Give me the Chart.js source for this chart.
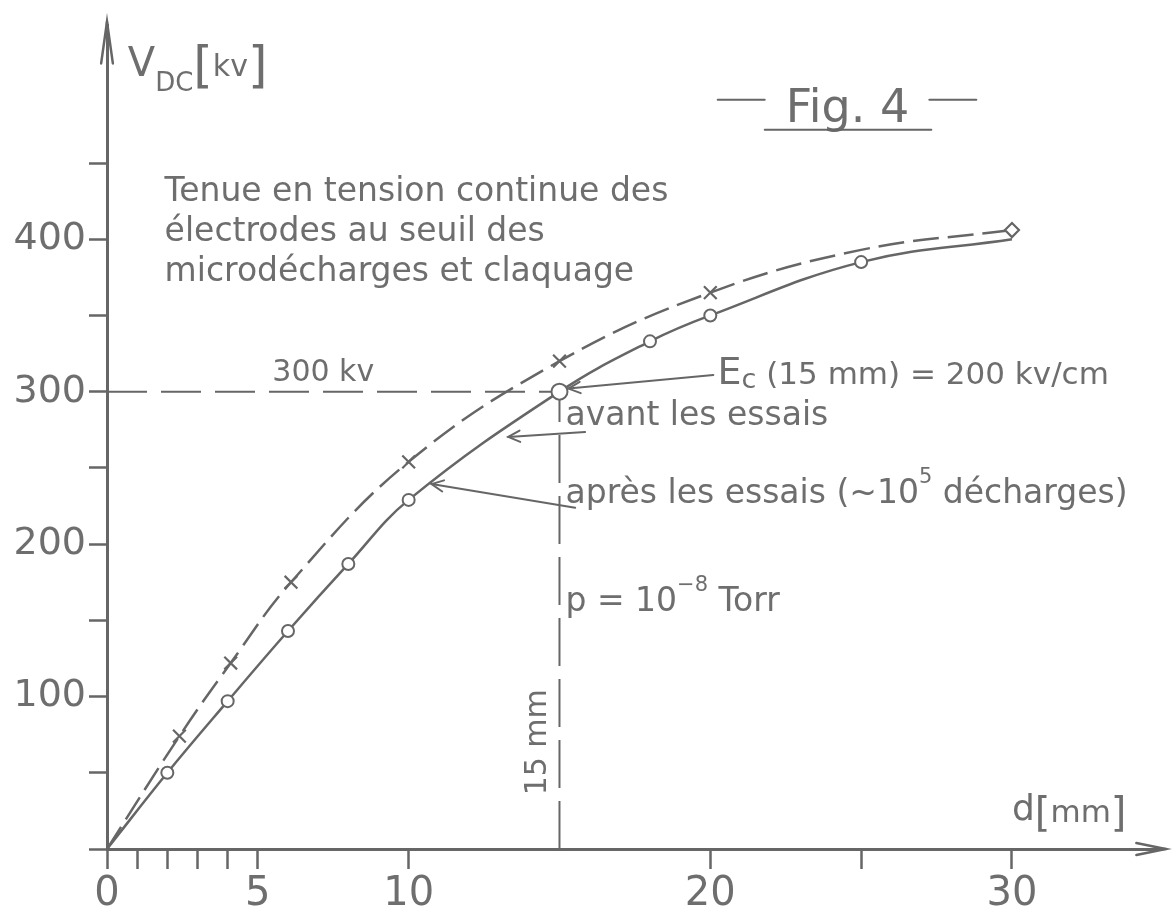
<!DOCTYPE html>
<html lang="fr">
<head>
<meta charset="UTF-8">
<title>Fig. 4</title>
<script src="https://cdn.jsdelivr.net/npm/chart.js"></script>
<style>
  html, body { margin: 0; padding: 0; background: #fff; }
  #wrap { width: 1172px; height: 921px; position: relative; }
</style>
</head>
<body>
<div id="wrap"><canvas id="fig4"></canvas></div>
<script>
// claquage (x markers, dashed curve)
const dBreak = [0, 2.4, 4.1, 6.1, 10, 15, 20, 25, 30];
const vBreak = [0, 74, 122, 175, 254, 320, 365, 393, 406];
// seuil des microdecharges (o markers, solid curve)
const dMicro = [0, 2, 4, 6, 8, 10, 15, 18, 20, 25, 30];
const vMicro = [0, 50, 97, 143, 187, 229, 300, 333, 350, 385, 400];

const V_REF = 300;   // kV
const D_REF = 15;    // mm

const xTicks = [0, 1, 2, 3, 4, 5, 10, 20, 25, 30];
const xLabels = [0, 5, 10, 20, 30];
const yTicks = [0, 50, 100, 150, 200, 250, 300, 350, 400, 450];
const yLabels = [100, 200, 300, 400];

const INK = '#666666';
const TXT = '#6e6e6e';
const FONT = '"DejaVu Sans", "Noto Sans", sans-serif';

// where the texts sit, in mm / kV
const notePos = {
  yTitle: [0.69, 507],
  xTitle: [30.0, 18.7],
  fig: [22.5, 477],
  block: [1.91, 425],
  ref300: [5.48, 307],
  ec: [20.24, 305],
  avant: [15.2, 278],
  apres: [15.2, 227],
  press: [15.2, 156],
  gap: [14.3, 70]
};
const leaders = [
  [[20.1, 311], [15.3, 302]],
  [[15.85, 273.5], [13.3, 270.3]],
  [[15.52, 223.9], [10.76, 239.4]]
];

function pts(xs, ys) { return xs.map((v, i) => ({ x: v, y: ys[i] })); }

function runs(ctx, x, y, parts) {
  let cx = x;
  for (const [t, s, dy] of parts) {
    ctx.font = s + 'px ' + FONT;
    ctx.fillText(t, cx, y + (dy || 0));
    cx += ctx.measureText(t).width;
  }
  return cx;
}

function arrow(ctx, x1, y1, x2, y2, head, spread) {
  ctx.beginPath(); ctx.moveTo(x1, y1); ctx.lineTo(x2, y2); ctx.stroke();
  const a = Math.atan2(y2 - y1, x2 - x1);
  ctx.beginPath();
  ctx.moveTo(x2 - head * Math.cos(a - spread), y2 - head * Math.sin(a - spread));
  ctx.lineTo(x2, y2);
  ctx.lineTo(x2 - head * Math.cos(a + spread), y2 - head * Math.sin(a + spread));
  ctx.stroke();
}

const notes = {
  id: 'notes',
  afterDraw(chart) {
    const { ctx, scales: { x, y } } = chart;
    const P = ([a, b]) => [x.getPixelForValue(a), y.getPixelForValue(b)];
    ctx.save();
    ctx.strokeStyle = INK;
    ctx.fillStyle = TXT;
    ctx.lineWidth = 2.5;
    ctx.lineCap = 'round';
    ctx.textAlign = 'left';
    ctx.textBaseline = 'alphabetic';

    // axis arrow heads
    const x0 = x.getPixelForValue(0), y0 = y.getPixelForValue(0);
    const top = y.getPixelForValue(y.max), right = x.getPixelForValue(x.max);
    arrow(ctx, x0, top + 10, x0, top - 4, 42, 0.14);
    arrow(ctx, right - 10, y0, right + 3, y0, 30, 0.2);

    // axis titles
    let [tx, ty] = P(notePos.yTitle);
    runs(ctx, tx, ty, [['V', 40, 0], ['DC', 26, 15], ['[', 50, 6], ['kv', 30, 0], [']', 50, 6]]);
    [tx, ty] = P(notePos.xTitle);
    runs(ctx, tx, ty, [['d', 36, 0], ['[', 40, 6], ['mm', 31, 2], [']', 40, 6]]);

    // title
    [tx, ty] = P(notePos.fig);
    ctx.font = '46px ' + FONT;
    const fw = ctx.measureText('Fig. 4').width;
    ctx.fillText('Fig. 4', tx, ty);
    ctx.lineWidth = 2;
    ctx.beginPath();
    ctx.moveTo(tx - 68, ty - 22); ctx.lineTo(tx - 21, ty - 22);
    ctx.moveTo(tx + fw + 20, ty - 22); ctx.lineTo(tx + fw + 67, ty - 22);
    ctx.moveTo(tx - 21, ty + 8); ctx.lineTo(tx + fw + 22, ty + 8);
    ctx.stroke();

    // description block
    [tx, ty] = P(notePos.block);
    ctx.font = '33px ' + FONT;
    ['Tenue en tension continue des', 'électrodes au seuil des', 'microdécharges et claquage']
      .forEach((t, i) => ctx.fillText(t, tx, ty + i * 40));

    [tx, ty] = P(notePos.ref300);
    ctx.font = '30px ' + FONT;
    ctx.fillText('300 kv', tx, ty);

    [tx, ty] = P(notePos.ec);
    runs(ctx, tx, ty, [['E', 38, 0], ['c', 27, 4], [' (15 mm) = 200 kv/cm', 31, 0]]);

    [tx, ty] = P(notePos.avant);
    ctx.font = '33px ' + FONT;
    ctx.fillText('avant les essais', tx, ty);

    [tx, ty] = P(notePos.apres);
    runs(ctx, tx, ty, [['après les essais (~10', 33, 0], ['5', 21, -20], [' décharges)', 33, 0]]);

    [tx, ty] = P(notePos.press);
    runs(ctx, tx, ty, [['p = 10', 33, 0], ['−8', 21, -20], [' Torr', 33, 0]]);

    [tx, ty] = P(notePos.gap);
    ctx.save();
    ctx.translate(tx, ty);
    ctx.rotate(-Math.PI / 2);
    ctx.textAlign = 'center';
    ctx.textBaseline = 'middle';
    ctx.font = '30px ' + FONT;
    ctx.fillText('15 mm', 0, 0);
    ctx.restore();

    // leader lines to the curves
    ctx.lineWidth = 2;
    leaders.forEach(([a, b]) => {
      const [ax, ay] = P(a), [bx, by] = P(b);
      arrow(ctx, ax, ay, bx, by, 13, 0.45);
    });
    ctx.restore();
  }
};

const tickFont = (s) => ({ size: s, family: FONT });

new Chart(document.getElementById('fig4'), {
  type: 'scatter',
  data: {
    datasets: [
      {
        label: 'claquage',
        data: pts(dBreak, vBreak),
        showLine: true,
        borderColor: INK,
        borderWidth: 2.5,
        borderDash: [26, 9],
        tension: 0.4,
        pointStyle: ['circle', 'crossRot', 'crossRot', 'crossRot', 'crossRot', 'crossRot', 'crossRot', 'circle', 'rectRot'],
        pointRadius: [0, 9, 9, 9, 9, 9, 9, 0, 7],
        pointBorderWidth: 2.2,
        pointBorderColor: INK,
        pointBackgroundColor: '#ffffff'
      },
      {
        label: 'microdécharges',
        data: pts(dMicro, vMicro),
        showLine: true,
        borderColor: INK,
        borderWidth: 2.5,
        tension: 0.4,
        pointStyle: 'circle',
        pointRadius: [0, 6, 6, 6, 6, 6, 8, 6, 6, 6, 0],
        pointBorderWidth: 2,
        pointBorderColor: INK,
        pointBackgroundColor: '#ffffff'
      },
      {
        label: '300 kv',
        data: [{ x: 0, y: V_REF }, { x: D_REF, y: V_REF }],
        showLine: true,
        borderColor: INK,
        borderWidth: 2,
        borderDash: [40, 14],
        pointRadius: 0
      },
      {
        label: '15 mm',
        data: [{ x: D_REF, y: 0 }, { x: D_REF, y: V_REF }],
        showLine: true,
        borderColor: INK,
        borderWidth: 2,
        borderDash: [48, 13],
        pointRadius: 0
      }
    ]
  },
  options: {
    responsive: true,
    maintainAspectRatio: false,
    animation: false,
    events: [],
    layout: { padding: { top: 12, right: 5, left: 0, bottom: 0 } },
    plugins: { legend: { display: false }, tooltip: { enabled: false } },
    scales: {
      x: {
        type: 'linear',
        min: 0,
        max: 35,
        afterBuildTicks: s => { s.ticks = xTicks.map(v => ({ value: v })); },
        afterFit: s => { s.height = 72; },
        ticks: {
          autoSkip: false,
          maxRotation: 0,
          padding: 2,
          color: TXT,
          font: tickFont(40),
          callback: v => xLabels.includes(v) ? String(v) : ''
        },
        grid: { drawOnChartArea: false, tickLength: 20, tickColor: INK, tickWidth: 2.5 },
        border: { color: INK, width: 3 }
      },
      y: {
        type: 'linear',
        min: 0,
        max: 540,
        afterBuildTicks: s => { s.ticks = yTicks.map(v => ({ value: v })); },
        afterFit: s => { s.width = 107; },
        ticks: {
          autoSkip: false,
          padding: 3,
          color: TXT,
          font: tickFont(38),
          callback: v => yLabels.includes(v) ? String(v) : ''
        },
        grid: { drawOnChartArea: false, tickLength: 18, tickColor: INK, tickWidth: 2.5 },
        border: { color: INK, width: 3 }
      }
    }
  },
  plugins: [notes]
});
</script>
</body>
</html>
